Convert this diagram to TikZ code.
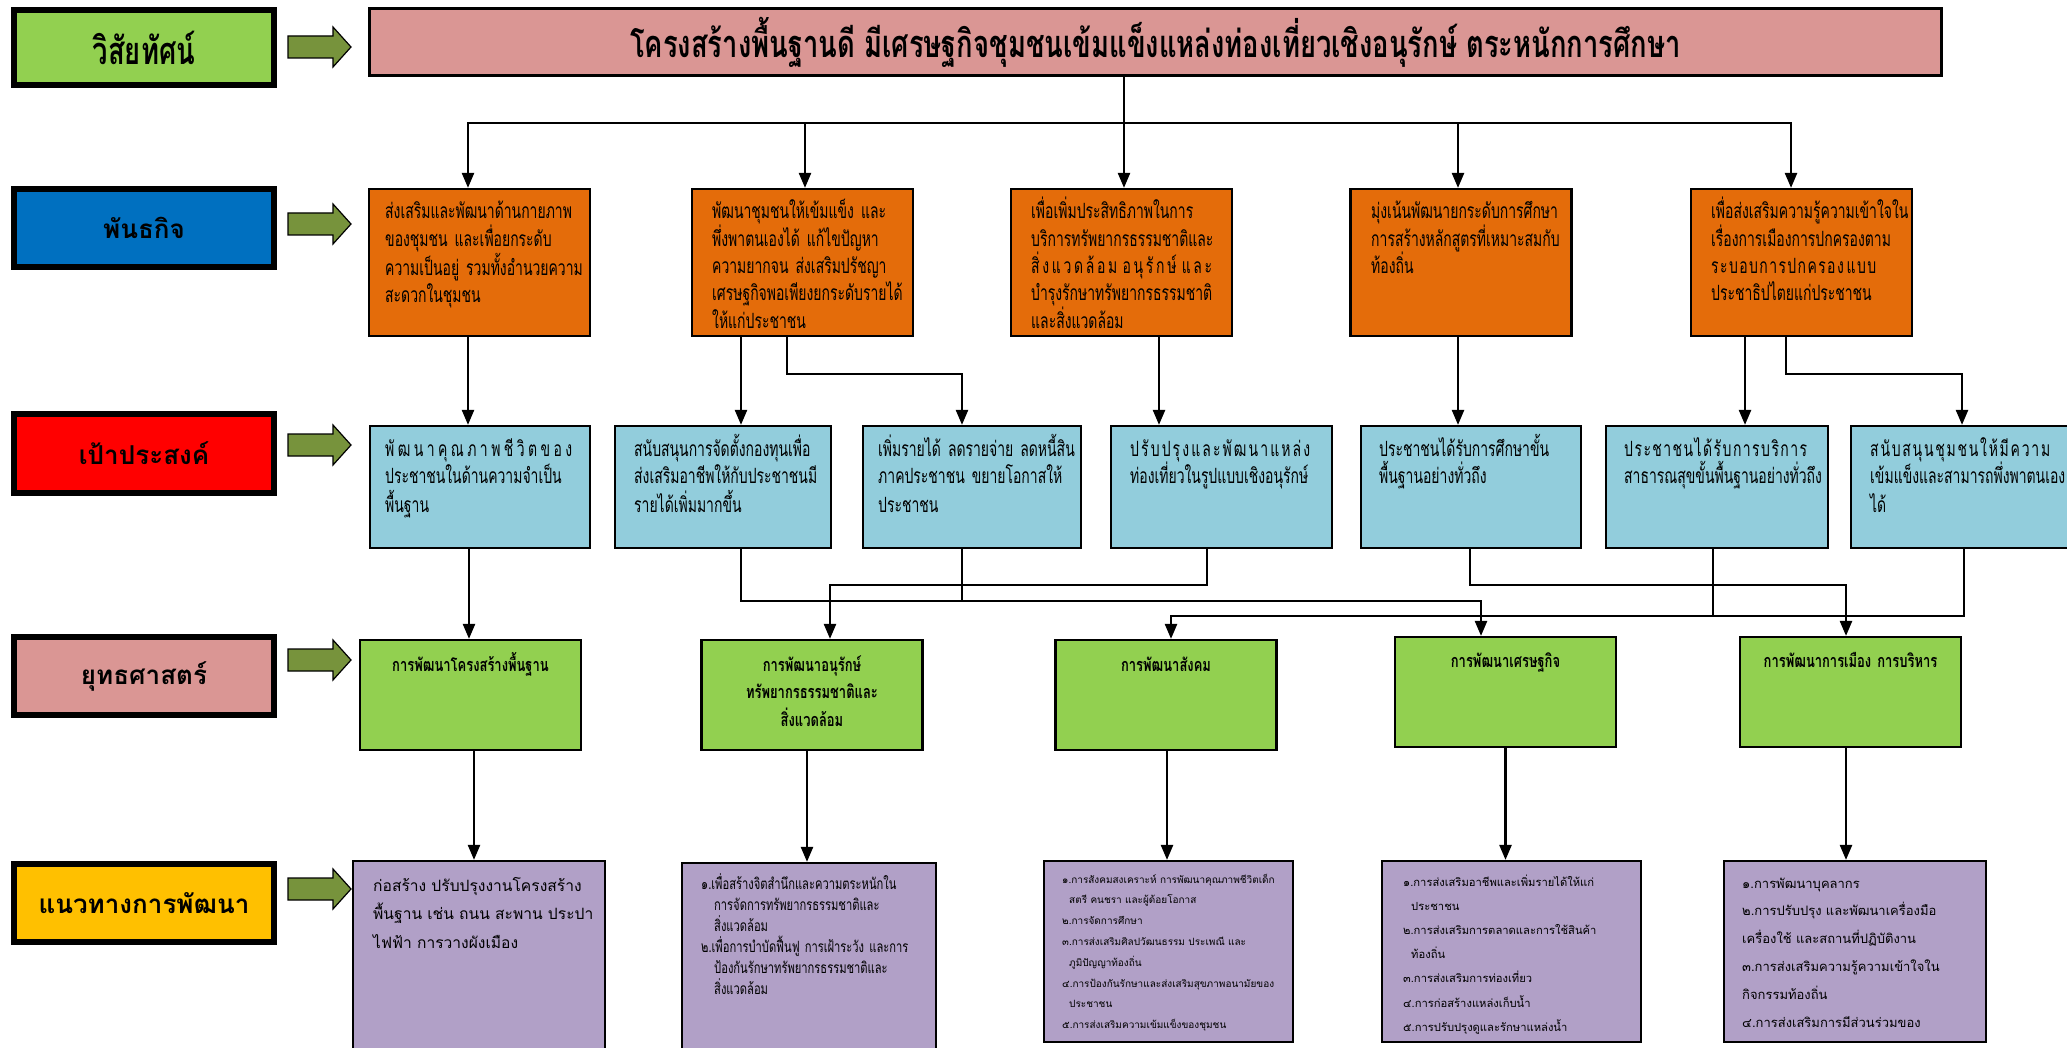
\documentclass[tikz,border=0pt]{standalone}
\usepackage{fontspec}
\setmainfont[Script=Thai]{Loma}
\newfontfamily\thc[Script=Thai,FakeStretch=0.72]{Loma}
\newfontfamily\thn[Script=Thai,FakeStretch=0.665]{Loma}
\newcommand\thdist[2]{\makebox[#1][s]{#2}}
\usetikzlibrary{arrows.meta}
\definecolor{cgreen}{HTML}{92D050}
\definecolor{cpink}{HTML}{DA9694}
\definecolor{cblue}{HTML}{0070C0}
\definecolor{cred}{HTML}{FF0000}
\definecolor{cgold}{HTML}{FFC000}
\definecolor{corange}{HTML}{E46C0A}
\definecolor{clblue}{HTML}{92CDDC}
\definecolor{cpurple}{HTML}{B1A0C7}
\definecolor{colive}{HTML}{77933C}
\begin{document}
\begin{tikzpicture}[x=1pt,y=-1pt,
  lab/.style={draw=black, line width=6pt, minimum width=260pt, inner sep=0pt, font=\bfseries\fontsize{26}{30}\selectfont},
  box/.style={draw=black, line width=2.2pt, inner sep=0pt},
  mbox/.style={box, fill=corange, minimum width=221pt, minimum height=147pt},
  obox/.style={box, fill=clblue, minimum height=122pt},
  sbox/.style={box, fill=cgreen, minimum width=221pt, minimum height=110pt},
  gbox/.style={box, fill=cpurple},
  txt/.style={inner sep=0pt, anchor=base west, align=left, text width=250pt},
  mtxt/.style={txt, font=\thn\fontsize{21}{27.3}\selectfont},
  otxt/.style={txt, font=\thn\fontsize{21}{28}\selectfont},
  stxt/.style={inner sep=0pt, anchor=base, align=center, text width=220pt, font=\thc\bfseries\fontsize{18}{27.5}\selectfont},
  conn/.style={line width=2.4pt},
  arr/.style={conn, -{Triangle[length=15pt,width=12pt]}},
  barrow/.style={draw=black, line width=1.2pt, fill=colive},
]
\useasboundingbox (0,0) rectangle (2067,1048);
\clip (0,0) rectangle (2067,1048);

% left labels
\node[lab, fill=cgreen, minimum height=75pt, font=\thc\bfseries\fontsize{38}{40}\selectfont] (vis) at (144,47.5) {วิสัยทัศน์};
\node[lab, fill=cblue, minimum height=78pt] (mis) at (144,228) {พันธกิจ};
\node[lab, fill=cred, minimum height=79pt] (goal) at (144,453.5) {เป้าประสงค์};
\node[lab, fill=cpink, minimum height=78pt] (strat) at (144,676) {ยุทธศาสตร์};
\node[lab, fill=cgold, minimum height=78pt] (guide) at (144,903) {แนวทางการพัฒนา};

% block arrows
\foreach \c in {47,224,445,660,889}
  \draw[barrow] (288,\c-11) -- (333,\c-11) -- (333,\c-20) -- (351,\c) -- (333,\c+20) -- (333,\c+11) -- (288,\c+11) -- cycle;

% title
\node[box, fill=cpink, line width=3pt, minimum width=1572pt, minimum height=67pt,
      font=\thc\bfseries\fontsize{38}{40}\selectfont] (title) at (1155.5,42)
  {โครงสร้างพื้นฐานดี มีเศรษฐกิจชุมชนเข้มแข็งแหล่งท่องเที่ยวเชิงอนุรักษ์ ตระหนักการศึกษา};

% mission boxes
\node[mbox] (m1) at (479.5,262.5) {};
\node[mbox] (m2) at (802.5,262.5) {};
\node[mbox] (m3) at (1121.5,262.5) {};
\node[mbox] (m4) at (1461,262.5) {};
\node[mbox] (m5) at (1801.5,262.5) {};
\node[mtxt] (m1t) at (385,219) {ส่งเสริมและพัฒนาด้านกายภาพ\\ของชุมชน และเพื่อยกระดับ\\ความเป็นอยู่ รวมทั้งอำนวยความ\\สะดวกในชุมชน};
\node[mtxt] (m2t) at (712,219) {พัฒนาชุมชนให้เข้มแข็ง และ\\พึ่งพาตนเองได้ แก้ไขปัญหา\\ความยากจน ส่งเสริมปรัชญา\\เศรษฐกิจพอเพียงยกระดับรายได้\\ให้แก่ประชาชน};
\node[mtxt] (m3t) at (1031,219) {เพื่อเพิ่มประสิทธิภาพในการ\\บริการทรัพยากรธรรมชาติและ\\\thdist{181pt}{สิ่\hfill ง\hfill แ\hfill ว\hfill ด\hfill ล้\hfill อ\hfill ม\hfill\hfill อ\hfill นุ\hfill รั\hfill ก\hfill ษ์\hfill\hfill แ\hfill ล\hfill ะ}\\บำรุงรักษาทรัพยากรธรรมชาติ\\และสิ่งแวดล้อม};
\node[mtxt] (m4t) at (1371,219) {มุ่งเน้นพัฒนายกระดับการศึกษา\\การสร้างหลักสูตรที่เหมาะสมกับ\\ท้องถิ่น};
\node[mtxt] (m5t) at (1711,219) {เพื่อส่งเสริมความรู้ความเข้าใจใน\\เรื่องการเมืองการปกครองตาม\\\thdist{165pt}{ร\hfill ะ\hfill บ\hfill อ\hfill บ\hfill ก\hfill า\hfill ร\hfill ป\hfill ก\hfill ค\hfill ร\hfill อ\hfill ง\hfill\hfill แ\hfill บ\hfill บ}\\ประชาธิปไตยแก่ประชาชน};

% objective boxes
\node[obox, minimum width=220pt] (o1) at (480,487) {};
\node[obox, minimum width=216pt] (o2) at (723,487) {};
\node[obox, minimum width=218pt] (o3) at (972,487) {};
\node[obox, minimum width=221pt] (o4) at (1221.5,487) {};
\node[obox, minimum width=220pt] (o5) at (1471,487) {};
\node[obox, minimum width=222pt] (o6) at (1717,487) {};
\node[obox, minimum width=219pt] (o7) at (1960.5,487) {};
\node[otxt] (o1t) at (385,456) {\thdist{187pt}{พั\hfill ฒ\hfill น\hfill า\hfill คุ\hfill ณ\hfill ภ\hfill า\hfill พ\hfill ชี\hfill วิ\hfill ต\hfill ข\hfill อ\hfill ง}\\ประชาชนในด้านความจำเป็น\\พื้นฐาน};
\node[otxt] (o2t) at (634,456) {สนับสนุนการจัดตั้งกองทุนเพื่อ\\ส่งเสริมอาชีพให้กับประชาชนมี\\รายได้เพิ่มมากขึ้น};
\node[otxt] (o3t) at (878,456) {เพิ่มรายได้ ลดรายจ่าย ลดหนี้สิน\\ภาคประชาชน ขยายโอกาสให้\\ประชาชน};
\node[otxt] (o4t) at (1130,456) {\thdist{180pt}{ป\hfill รั\hfill บ\hfill ป\hfill รุ\hfill ง\hfill แ\hfill ล\hfill ะ\hfill พั\hfill ฒ\hfill น\hfill า\hfill แ\hfill ห\hfill ล่\hfill ง}\\ท่องเที่ยวในรูปแบบเชิงอนุรักษ์};
\node[otxt] (o5t) at (1379,456) {ประชาชนได้รับการศึกษาขั้น\\พื้นฐานอย่างทั่วถึง};
\node[otxt] (o6t) at (1624,456) {\thdist{183pt}{ป\hfill ร\hfill ะ\hfill ช\hfill า\hfill ช\hfill น\hfill ไ\hfill ด้\hfill รั\hfill บ\hfill ก\hfill า\hfill ร\hfill บ\hfill ริ\hfill ก\hfill า\hfill ร}\\สาธารณสุขขั้นพื้นฐานอย่างทั่วถึง};
\node[otxt] (o7t) at (1870,456) {\thdist{180pt}{ส\hfill นั\hfill บ\hfill ส\hfill นุ\hfill น\hfill ชุ\hfill ม\hfill ช\hfill น\hfill ใ\hfill ห้\hfill มี\hfill ค\hfill ว\hfill า\hfill ม}\\เข้มแข็งและสามารถพึ่งพาตนเอง\\ได้};

% strategy boxes
\node[sbox] (s1) at (470.5,695) {};
\node[sbox] (s2) at (812,695) {};
\node[sbox] (s3) at (1166,695) {};
\node[sbox] (s4) at (1505.5,692) {};
\node[sbox] (s5) at (1850.5,692) {};
\node[stxt] (s1t) at (470.5,671) {การพัฒนาโครงสร้างพื้นฐาน};
\node[stxt] (s2t) at (812,671) {การพัฒนาอนุรักษ์\\ทรัพยากรธรรมชาติและ\\สิ่งแวดล้อม};
\node[stxt] (s3t) at (1166,671) {การพัฒนาสังคม};
\node[stxt] (s4t) at (1505.5,667) {การพัฒนาเศรษฐกิจ};
\node[stxt] (s5t) at (1850.5,667) {การพัฒนาการเมือง การบริหาร};

% guideline boxes
\node[gbox, minimum width=252pt, minimum height=220pt] (g1) at (479,971) {};
\node[gbox, minimum width=254pt, minimum height=220pt] (g2) at (809,973) {};
\node[gbox, minimum width=249pt, minimum height=181pt] (g3) at (1168.5,951.5) {};
\node[gbox, minimum width=259pt, minimum height=181pt] (g4) at (1511.5,951.5) {};
\node[gbox, minimum width=262pt, minimum height=181pt] (g5) at (1855,951.5) {};
\node[txt, font=\fontsize{15.6}{28.5}\selectfont] (g1t) at (373,891) {ก่อสร้าง ปรับปรุงงานโครงสร้าง\\พื้นฐาน เช่น ถนน สะพาน ประปา\\ไฟฟ้า การวางผังเมือง};
\node[txt, font=\thc\fontsize{15.5}{21}\selectfont] (g2t) at (701,889) {๑.เพื่อสร้างจิตสำนึกและความตระหนักใน\\\hspace*{13pt}การจัดการทรัพยากรธรรมชาติและ\\\hspace*{13pt}สิ่งแวดล้อม\\๒.เพื่อการบำบัดฟื้นฟู การเฝ้าระวัง และการ\\\hspace*{13pt}ป้องกันรักษาทรัพยากรธรรมชาติและ\\\hspace*{13pt}สิ่งแวดล้อม};
\node[txt, font=\fontsize{10}{20.8}\selectfont] (g3t) at (1062,883) {๑.การสังคมสงเคราะห์ การพัฒนาคุณภาพชีวิตเด็ก\\\hspace*{7pt}สตรี คนชรา และผู้ด้อยโอกาส\\๒.การจัดการศึกษา\\๓.การส่งเสริมศิลปวัฒนธรรม ประเพณี และ\\\hspace*{7pt}ภูมิปัญญาท้องถิ่น\\๔.การป้องกันรักษาและส่งเสริมสุขภาพอนามัยของ\\\hspace*{7pt}ประชาชน\\๕.การส่งเสริมความเข้มแข็งของชุมชน};
\node[txt, font=\fontsize{11.2}{24.2}\selectfont] (g4t) at (1403,886) {๑.การส่งเสริมอาชีพและเพิ่มรายได้ให้แก่\\\hspace*{8pt}ประชาชน\\๒.การส่งเสริมการตลาดและการใช้สินค้า\\\hspace*{8pt}ท้องถิ่น\\๓.การส่งเสริมการท่องเที่ยว\\๔.การก่อสร้างแหล่งเก็บน้ำ\\๕.การปรับปรุงดูและรักษาแหล่งน้ำ};
\node[txt, font=\fontsize{13}{27.8}\selectfont] (g5t) at (1742,888) {๑.การพัฒนาบุคลากร\\๒.การปรับปรุง และพัฒนาเครื่องมือ\\เครื่องใช้ และสถานที่ปฏิบัติงาน\\๓.การส่งเสริมความรู้ความเข้าใจใน\\กิจกรรมท้องถิ่น\\๔.การส่งเสริมการมีส่วนร่วมของ};

% connectors: vision -> missions
\coordinate (bus) at (1124,123);
\draw[conn] (title.south -| bus) -- (bus);
\draw[arr] (bus) -| ([xshift=-11.5pt]m1.north);
\draw[arr] (bus) -| ([xshift=2.5pt]m2.north);
\draw[arr] (bus) -- ([xshift=2.5pt]m3.north);
\draw[arr] (bus) -| ([xshift=-3pt]m4.north);
\draw[arr] (bus) -| ([xshift=-10.5pt]m5.north);

% missions -> objectives
\draw[arr] ([xshift=-11.5pt]m1.south) -- ([xshift=-11.5pt]m1.south |- o1.north);
\draw[arr] ([xshift=-61.5pt]m2.south) -- ([xshift=-61.5pt]m2.south |- o2.north);
\draw[arr] ([xshift=-15.5pt]m2.south) -- ++(0,37) -| ([xshift=-10pt]o3.north);
\draw[arr] ([xshift=37.5pt]m3.south) -- ([xshift=37.5pt]m3.south |- o4.north);
\draw[arr] ([xshift=-3pt]m4.south) -- ([xshift=-3pt]m4.south |- o5.north);
\draw[arr] ([xshift=-56.5pt]m5.south) -- ([xshift=-56.5pt]m5.south |- o6.north);
\draw[arr] ([xshift=-15.5pt]m5.south) -- ++(0,37) -| ([xshift=1.5pt]o7.north);

% objectives -> strategies
\draw[arr] ([xshift=-11pt]o1.south) -- ([xshift=-11pt]o1.south |- s1.north);
\draw[arr] ([xshift=18pt]o2.south) -- ++(0,52) -| ([xshift=-24.5pt]s4.north);
\draw[conn] ([xshift=-10pt]o3.south) -- ++(0,52);
\draw[arr] ([xshift=-14.5pt]o4.south) -- ++(0,36) -| ([xshift=18pt]s2.north);
\draw[arr] ([xshift=-1pt]o5.south) -- ++(0,36) -| ([xshift=-4.5pt]s5.north);
\draw[conn] ([xshift=-4pt]o6.south) -- ++(0,67);
\draw[arr] ([xshift=3.5pt]o7.south) -- ++(0,67) -| ([xshift=5pt]s3.north);

% strategies -> guidelines
\draw[arr] ([xshift=3.5pt]s1.south) -- ([xshift=3.5pt]s1.south |- g1.north);
\draw[arr] ([xshift=-5pt]s2.south) -- ([xshift=-5pt]s2.south |- g2.north);
\draw[arr] ([xshift=1pt]s3.south) -- ([xshift=1pt]s3.south |- g3.north);
\draw[arr] (s4.south) -- (s4.south |- g4.north);
\draw[arr] ([xshift=-4.5pt]s5.south) -- ([xshift=-4.5pt]s5.south |- g5.north);
\end{tikzpicture}
\end{document}
